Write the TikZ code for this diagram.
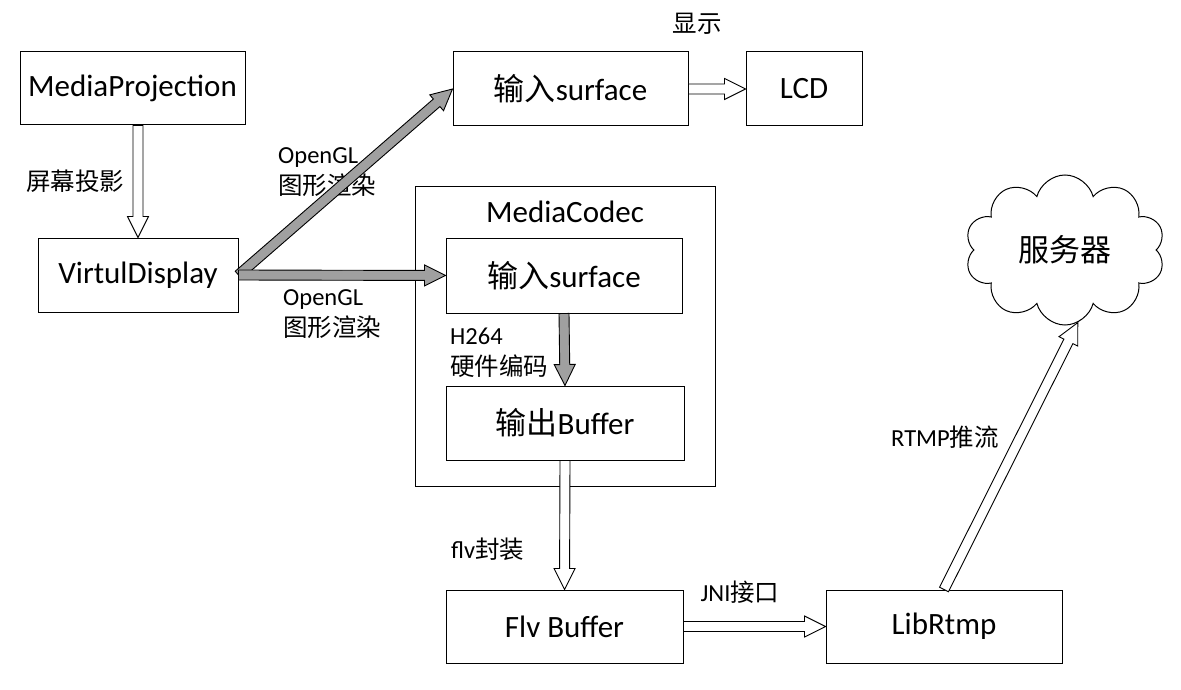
\documentclass[tikz,border=0pt]{standalone}
\usepackage{fontspec}
\setmainfont{Carlito}
\newfontfamily\cjk{Noto Sans CJK SC}
\usetikzlibrary{calc,shapes.symbols}
\definecolor{arrgray}{RGB}{160,160,160}
\newcommand\bigtxt{\fontsize{31}{36}\selectfont}
\newcommand\smalltxt{\fontsize{24.5}{31}\selectfont}
% block arrow from #2 to #3, filled with #1
\newcommand\fatarrow[3][white]{%
  \draw[line width=0.9pt, fill=#1, line join=miter] let \p1=(#2), \p2=(#3),
    \n1={atan2(\y2-\y1,\x2-\x1)}, \n2={veclen(\x2-\x1,\y2-\y1)} in
    [shift={(\p1)}, rotate=\n1]
    (0pt,-5pt) -- (\n2-21pt,-5pt) -- (\n2-21pt,-10.5pt) -- (\n2-0pt,0pt)
    -- (\n2-21pt,10.5pt) -- (\n2-21pt,5pt) -- (0pt,5pt) -- cycle;}
\tikzset{
  box/.style={draw, line width=1pt, inner sep=0pt, font=\bigtxt},
  lbl/.style={font=\smalltxt, align=left, inner sep=0pt},
}
\begin{document}
\begin{tikzpicture}[x=1pt,y=-1pt]
  \useasboundingbox (0,0) rectangle (1181,690);
  \node[box, minimum width=300pt, minimum height=300pt] (codec) at (565,336) {};
  \node[font=\bigtxt, inner sep=0pt] (lcodec) at (565,212) {MediaCodec};

  \node[box, minimum width=225pt, minimum height=73pt] (mp) at (132.5,88.5) {MediaProjection};
  \node[box, minimum width=200pt, minimum height=74pt] (vd) at (138,275) {VirtulDisplay};
  \node[box, minimum width=235pt, minimum height=74pt] (in1) at (570.5,89) {{\cjk 输入}surface};
  \node[box, minimum width=116pt, minimum height=74pt] (lcd) at (804,89) {LCD};
  \node[box, minimum width=236pt, minimum height=75pt] (in2) at (564,275.5) {{\cjk 输入}surface};
  \node[box, minimum width=238pt, minimum height=74pt] (out) at (565,423) {{\cjk 输出}Buffer};
  \node[box, minimum width=237pt, minimum height=73pt] (flv) at (564.5,626.5) {Flv Buffer};
  \node[box, minimum width=236pt, minimum height=73pt] (lib) at (944,626.5) {LibRtmp};
  \node[cloud, draw, line width=1pt, cloud puffs=10, cloud ignores aspect,
    minimum width=200pt, minimum height=150pt, font=\bigtxt\cjk] (srv) at (1065,250) {服务器};

  \node[lbl] (lproj) at (75,181) {{\cjk 屏幕投影}};
  \node[lbl] (lshow) at (697,24) {{\cjk 显示}};
  \node[lbl, anchor=west] (lgl1) at (278,172) {OpenGL\\{\cjk 图形渲染}};
  \node[lbl, anchor=west] (lgl2) at (283,314) {OpenGL\\{\cjk 图形渲染}};
  \node[lbl, anchor=west] (lenc) at (450,353) {H264\\{\cjk 硬件编码}};
  \node[lbl, anchor=west] (lflv) at (451,549) {flv{\cjk 封装}};
  \node[lbl] (ljni) at (740,592) {JNI{\cjk 接口}};
  \node[lbl] (lrtmp) at (945,437) {RTMP{\cjk 推流}};

  \fatarrow{vd.north |- mp.south}{vd.north}
  \fatarrow[arrgray]{vd.east}{in1.west}
  \fatarrow[arrgray]{vd.east}{in2.west}
  \fatarrow{in1.east}{lcd.west}
  \fatarrow[arrgray]{in2.south}{out.north}
  \fatarrow{out.south}{flv.north}
  \fatarrow{flv.east}{lib.west}
  \fatarrow{lib.north}{srv.-80}
\end{tikzpicture}
\end{document}
